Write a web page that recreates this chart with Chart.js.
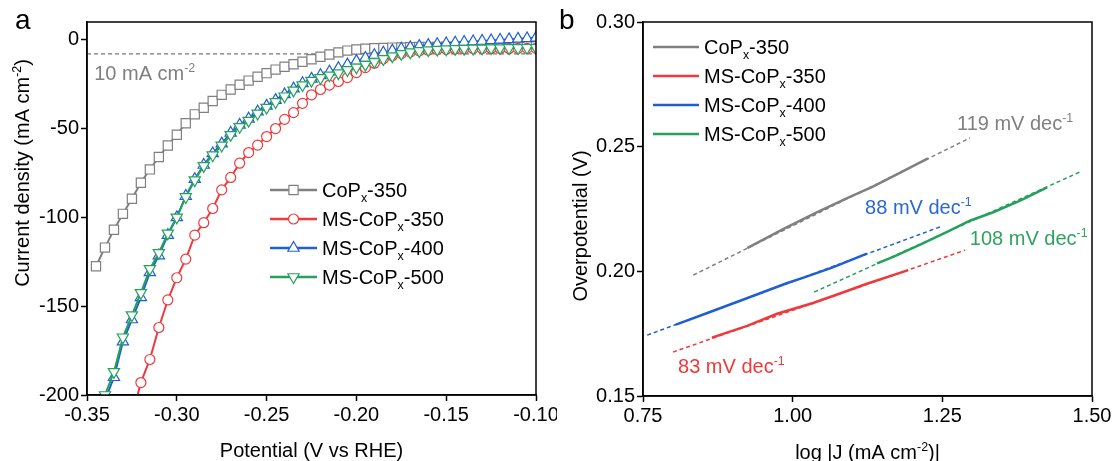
<!DOCTYPE html>
<html>
<head>
<meta charset="utf-8">
<script src="https://cdn.jsdelivr.net/npm/chart.js@4.4.1/dist/chart.umd.min.js"></script>
<style>
  body { margin: 0; background: #fff; width: 1115px; height: 461px; overflow: hidden; position: relative; }
  canvas { position: absolute; top: 0; }
  #chartA { left: 0; }
  #chartB { left: 557px; }
</style>
</head>
<body>
<canvas id="chartA" width="557" height="461"></canvas>
<canvas id="chartB" width="558" height="461"></canvas>
<script>
const FONT = '"Liberation Sans", Arial, sans-serif';

// ---- panel a: polarization curves (V vs RHE, mA cm-2) ----
const potential = [-0.345, -0.340, -0.335, -0.330, -0.325, -0.320, -0.315, -0.310, -0.305, -0.300,
  -0.295, -0.290, -0.285, -0.280, -0.275, -0.270, -0.265, -0.260, -0.255, -0.250,
  -0.245, -0.240, -0.235, -0.230, -0.225, -0.220, -0.215, -0.210, -0.205, -0.200,
  -0.195, -0.190, -0.185, -0.180, -0.175, -0.170, -0.165, -0.160, -0.155, -0.150,
  -0.145, -0.140, -0.135, -0.130, -0.125, -0.120, -0.115, -0.110, -0.105, -0.100];

const jCoP350 = [-127.5, -117, -107, -98, -89.5, -80.5, -73, -66, -59.5, -53.5,
  -47, -42, -38.3, -34.5, -31, -28, -25.3, -23, -20.8, -18.8,
  -16.8, -15.2, -13.8, -12.4, -11, -9.6, -8.3, -7.1, -6.1, -5.5,
  -5.1, -4.8, -4.6, -4.4, -4.3, -4.2, -4.1, -4.0, -4.0, -3.9,
  -3.9, -3.8, -3.8, -3.8, -3.7, -3.7, -3.7, -3.6, -3.6, -3.6];

const jMS350 = [null, null, null, null, -212, -193, -180, -162, -146.5, -134,
  -123.5, -110, -103, -95, -84.5, -77.5, -69.5, -63.5, -59.3, -54.5,
  -50, -44.8, -41, -35.8, -31, -28, -25.5, -23.5, -21.3, -18.5,
  -15.7, -13.2, -10.7, -9, -7.8, -6.9, -6.2, -5.8, -5.5, -5.3,
  -5.2, -5.1, -5.0, -5.0, -4.9, -4.9, -4.9, -4.8, -4.8, -4.8];

const jMS400 = [-215, -203, -190, -170, -157.5, -145, -131, -121.5, -110, -100,
  -88, -78.5, -70.5, -64, -58.5, -52.5, -48, -44.5, -40.5, -37.2,
  -34, -30.8, -27.5, -24.5, -22, -20, -18, -16, -14, -12,
  -10.3, -8.7, -7.3, -6.1, -5.1, -4.3, -3.6, -3.0, -2.5, -2.1,
  -1.7, -1.3, -1.0, -0.7, -0.4, -0.1, 0.2, 0.5, 0.8, 1.1];

const jMS500 = [-212, -200, -187, -167.5, -155, -142.5, -129, -120, -109, -100,
  -88.5, -79, -71, -65, -59.5, -53.5, -49, -45.5, -41.5, -38.2,
  -35, -31.8, -28.5, -25.5, -23, -21.5, -20, -18.8, -17, -15.5,
  -14, -12.4, -10.8, -9.2, -7.9, -7, -6.3, -5.8, -5.5, -5.3,
  -5.1, -5.0, -4.9, -4.8, -4.7, -4.7, -4.6, -4.6, -4.5, -4.5];

const currentTicks = [-200, -150, -100, -50, 0];
const refCurrent = -8; // dashed "10 mA cm-2" guide as drawn

// ---- panel b: Tafel plots (log|J|, overpotential V) ----
const logJCoP350 = [0.924, 0.984, 1.041, 1.091, 1.134, 1.179, 1.226];
const etaCoP350 = [0.2093, 0.2169, 0.2237, 0.2294, 0.2340, 0.2395, 0.2453];
const logJMS350 = [0.865, 0.924, 0.974, 1.034, 1.079, 1.124, 1.193];
const etaMS350 = [0.1734, 0.1781, 0.1830, 0.1873, 0.1911, 0.1950, 0.2005];
const logJMS400 = [0.805, 0.862, 0.929, 0.990, 1.017, 1.067, 1.124];
const etaMS400 = [0.1786, 0.1837, 0.1897, 0.1952, 0.1974, 0.2016, 0.2071];
const logJMS500 = [1.141, 1.168, 1.213, 1.258, 1.296, 1.335, 1.380, 1.425];
const etaMS500 = [0.2032, 0.2058, 0.2107, 0.2158, 0.2203, 0.2237, 0.2284, 0.2337];

// fitted lines, start and end points
const fitXCoP350 = [0.834, 1.296], fitYCoP350 = [0.1985, 0.2535];
const fitXMS350 = [0.800, 1.288], fitYMS350 = [0.1676, 0.2085];
const fitXMS400 = [0.757, 1.246], fitYMS400 = [0.1744, 0.2178];
const fitXMS500 = [1.036, 1.483], fitYMS500 = [0.1917, 0.2402];

const tafelSlopes = [119, 83, 88, 108];

const seriesNames = ['CoPx-350', 'MS-CoPx-350', 'MS-CoPx-400', 'MS-CoPx-500'];
const colors = ['#808080', '#ef3a3c', '#1f5fd3', '#25a15b'];

function points(xs, ys) {
  const out = [];
  xs.forEach((x, i) => { if (ys[i] !== null) out.push({ x: x, y: ys[i] }); });
  return out;
}

// name like "MS-CoPx-350" -> parts with subscript x
function nameParts(name) {
  const [a, b] = name.split('Px');
  return [[a + 'P', ''], ['x', 'sub'], [b, '']];
}

// draw text with sup/sub pieces; y is the visual middle of the text
function drawRich(ctx, parts, x, y, size, color, align) {
  const small = size * 0.62;
  let total = 0;
  const widths = parts.map(([t, k]) => {
    ctx.font = (k ? small : size) + 'px ' + FONT;
    const w = ctx.measureText(t).width;
    total += w;
    return w;
  });
  let cx = align === 'center' ? x - total / 2 : x;
  const base = y + size * 0.36;
  ctx.fillStyle = color;
  ctx.textAlign = 'left';
  ctx.textBaseline = 'alphabetic';
  parts.forEach(([t, k], i) => {
    ctx.font = (k ? small : size) + 'px ' + FONT;
    let dy = 0;
    if (k === 'sup') dy = -size * 0.4;
    if (k === 'sub') dy = size * 0.22;
    ctx.fillText(t, cx, base + dy);
    cx += widths[i];
  });
}

function axisStyle(extra) {
  return Object.assign({
    type: 'linear',
    border: { display: true, color: '#000', width: 1.5 },
    grid: { display: true, drawOnChartArea: false, drawTicks: true, tickLength: 6, tickColor: '#000', tickWidth: 1.5 },
  }, extra);
}

function tickFont(cb) {
  return { color: '#000', font: { family: FONT, size: 20 }, padding: 2, maxRotation: 0, autoSkip: false, callback: cb };
}

// box, titles, legend and text labels drawn on top of each panel
function decorPlugin(cfg) {
  return {
    id: 'decor',
    afterDraw(chart) {
      const ctx = chart.ctx;
      const a = chart.chartArea;
      const xs = chart.scales.x, ys = chart.scales.y;
      ctx.save();
      ctx.strokeStyle = '#000';
      ctx.lineWidth = 1.5;
      ctx.strokeRect(a.left, a.top, a.right - a.left, a.bottom - a.top);

      // panel tag
      ctx.font = '28px ' + FONT;
      ctx.fillStyle = '#000';
      ctx.textBaseline = 'alphabetic';
      ctx.textAlign = 'left';
      ctx.fillText(cfg.tag, cfg.tagX, 29);

      // axis titles
      drawRich(ctx, cfg.xTitle, (a.left + a.right) / 2, cfg.xTitleY, 20, '#000', 'center');
      ctx.save();
      ctx.translate(cfg.yTitleX, cfg.yTitleY);
      ctx.rotate(-Math.PI / 2);
      drawRich(ctx, cfg.yTitle, 0, 0, 20, '#000', 'center');
      ctx.restore();

      // legend
      const lg = cfg.legend;
      seriesNames.forEach((name, i) => {
        const y = lg.y + i * lg.dy;
        ctx.strokeStyle = colors[i];
        ctx.lineWidth = 2.5;
        ctx.setLineDash([]);
        ctx.beginPath();
        ctx.moveTo(lg.x, y);
        ctx.lineTo(lg.x + lg.len, y);
        ctx.stroke();
        if (lg.markers) {
          const m = lg.markers[i];
          ctx.fillStyle = '#fff';
          ctx.lineWidth = 1.2;
          Chart.helpers.drawPoint(ctx, { pointStyle: m.style, radius: m.r, rotation: m.rot, borderWidth: 1.2 }, lg.x + lg.len / 2, y);
        }
        drawRich(ctx, nameParts(name), lg.x + lg.len + 5, y, 20, '#000', 'left');
      });

      // text labels in data coordinates
      cfg.notes.forEach(n => {
        drawRich(ctx, n.parts, xs.getPixelForValue(n.x), ys.getPixelForValue(n.y), 20, n.color, 'left');
      });
      ctx.restore();
    }
  };
}

// ---------- panel a ----------
const markerStyles = [
  { style: 'rect', r: 6.5, rot: 0 },
  { style: 'circle', r: 5, rot: 0 },
  { style: 'triangle', r: 6.5, rot: 0 },
  { style: 'triangle', r: 6.5, rot: 180 }
];
const currents = [jCoP350, jMS350, jMS400, jMS500];

const datasetsA = currents.map((ys, i) => ({
  data: points(potential, ys),
  borderColor: colors[i],
  borderWidth: 2,
  pointStyle: markerStyles[i].style,
  pointRadius: markerStyles[i].r,
  pointRotation: markerStyles[i].rot,
  pointBorderColor: colors[i],
  pointBackgroundColor: '#fff',
  pointBorderWidth: 1.2,
  tension: 0,
  clip: 0,
  order: 3 - i
}));
datasetsA.push({
  data: [{ x: -0.35, y: refCurrent }, { x: -0.10, y: refCurrent }],
  borderColor: '#777',
  borderWidth: 1.3,
  borderDash: [4, 3],
  pointRadius: 0,
  order: 10
});

new Chart(document.getElementById('chartA'), {
  type: 'line',
  data: { datasets: datasetsA },
  options: {
    responsive: false,
    animation: false,
    layout: { padding: { left: 0, right: 21, top: 22, bottom: 0 } },
    plugins: { legend: { display: false }, tooltip: { enabled: false } },
    scales: {
      x: axisStyle({
        min: -0.35, max: -0.10,
        ticks: Object.assign(tickFont(v => v.toFixed(2)), { stepSize: 0.05 }),
        afterFit(s) { s.height = 66; s.paddingLeft = 0; s.paddingRight = 0; }
      }),
      y: axisStyle({
        min: -200, max: 10,
        ticks: tickFont(v => String(v)),
        afterBuildTicks(s) { s.ticks = currentTicks.map(v => ({ value: v })); },
        afterFit(s) { s.width = 87; s.paddingTop = 0; s.paddingBottom = 0; }
      })
    }
  },
  plugins: [decorPlugin({
    tag: 'a', tagX: 15,
    xTitle: [['Potential (V vs RHE)', '']], xTitleY: 450,
    yTitle: [['Current density (mA cm', ''], ['-2', 'sup'], [')', '']], yTitleX: 22, yTitleY: 173,
    legend: { x: 270, y: 190, dy: 29, len: 47, markers: markerStyles },
    notes: [{ parts: [['10 mA cm', ''], ['-2', 'sup']], x: -0.346, y: -18.5, color: '#808080' }]
  })]
});

// ---------- panel b ----------
const tafelX = [logJCoP350, logJMS350, logJMS400, logJMS500];
const tafelY = [etaCoP350, etaMS350, etaMS400, etaMS500];
const fitX = [fitXCoP350, fitXMS350, fitXMS400, fitXMS500];
const fitY = [fitYCoP350, fitYMS350, fitYMS400, fitYMS500];

const datasetsB = [];
tafelX.forEach((xs, i) => {
  datasetsB.push({
    data: points(xs, tafelY[i]),
    borderColor: colors[i],
    borderWidth: 2.5,
    pointRadius: 0,
    order: 3 - i
  });
  datasetsB.push({
    data: points(fitX[i], fitY[i]),
    borderColor: colors[i],
    borderWidth: 1.5,
    borderDash: [4, 3],
    pointRadius: 0,
    order: 10 + i
  });
});

const slopeColors = [colors[0], colors[1], '#2a68d4', '#2ea35f'];
const slopeLabels = tafelSlopes.map(s => [[s + ' mV dec', ''], ['-1', 'sup']]);

new Chart(document.getElementById('chartB'), {
  type: 'line',
  data: { datasets: datasetsB },
  options: {
    responsive: false,
    animation: false,
    layout: { padding: { left: 0, right: 23, top: 22, bottom: 0 } },
    plugins: { legend: { display: false }, tooltip: { enabled: false } },
    scales: {
      x: axisStyle({
        min: 0.75, max: 1.5,
        ticks: Object.assign(tickFont(v => v.toFixed(2)), { stepSize: 0.25 }),
        afterFit(s) { s.height = 65; s.paddingLeft = 0; s.paddingRight = 0; }
      }),
      y: axisStyle({
        min: 0.15, max: 0.30,
        ticks: Object.assign(tickFont(v => v.toFixed(2)), { stepSize: 0.05 }),
        afterFit(s) { s.width = 86; s.paddingTop = 0; s.paddingBottom = 0; }
      })
    }
  },
  plugins: [decorPlugin({
    tag: 'b', tagX: 2,
    xTitle: [['log |J (mA cm', ''], ['-2', 'sup'], [')|', '']], xTitleY: 452,
    yTitle: [['Overpotential (V)', '']], yTitleX: 23, yTitleY: 226,
    legend: { x: 96, y: 47, dy: 29, len: 46 },
    notes: [
      { parts: slopeLabels[0], x: 1.2745, y: 0.2595, color: slopeColors[0] },
      { parts: slopeLabels[2], x: 1.121, y: 0.2258, color: slopeColors[2] },
      { parts: slopeLabels[3], x: 1.296, y: 0.2134, color: slopeColors[3] },
      { parts: slopeLabels[1], x: 0.8085, y: 0.162, color: slopeColors[1] }
    ]
  })]
});
</script>
</body>
</html>
